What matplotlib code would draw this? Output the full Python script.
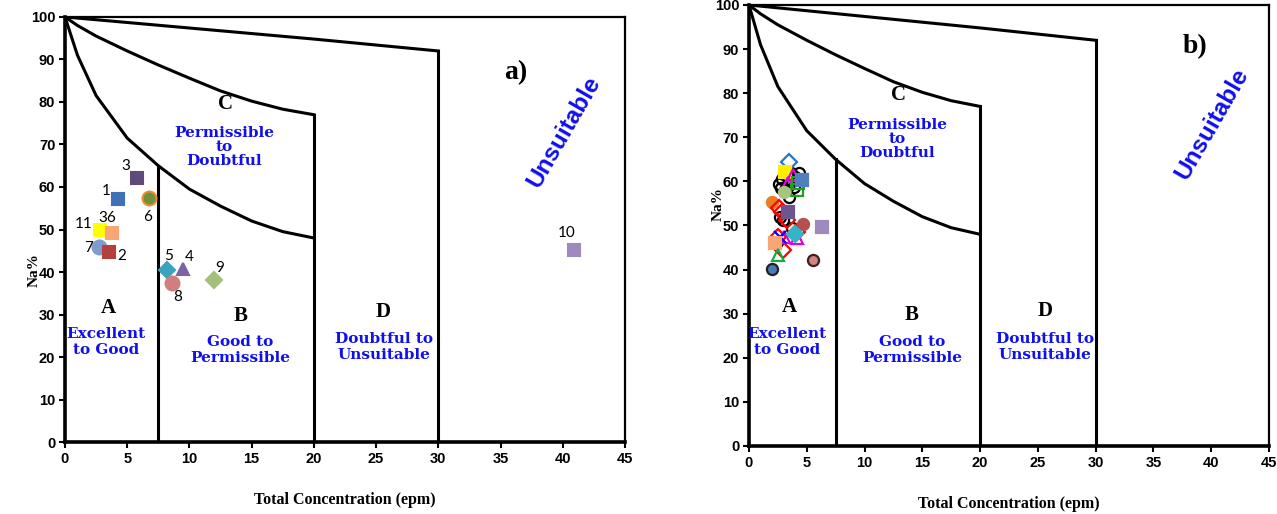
import matplotlib
matplotlib.use('Agg')
import matplotlib.pyplot as plt

# Wilcox diagram boundary curves (Total Concentration epm vs Na%)
curve_low_x = [0, 1, 2.5, 5, 7.5, 10, 12.5, 15, 17.5, 20]
curve_low_y = [100, 91, 81.5, 71.5, 65, 59.5, 55.5, 52, 49.5, 48]
curve_mid_x = [0, 1, 2.5, 5, 7.5, 10, 12.5, 15, 17.5, 20]
curve_mid_y = [100, 98, 95.5, 92, 88.7, 85.6, 82.6, 80.2, 78.3, 77]
curve_top_x = [0, 5, 10, 15, 20, 25, 30]
curve_top_y = [100, 98.7, 97.4, 96.1, 94.8, 93.4, 92]
vlines_x = [7.5, 20, 30]
vlines_top = [65, 77, 92]

# panel a: labelled samples
a_labels = ['1', '3', '6', '11', '36', '7', '2', '5', '4', '8', '9', '10']
a_x = [4.28, 5.76, 6.75, 2.84, 3.75, 2.76, 3.54, 8.22, 9.51, 8.57, 12.0, 40.9]
a_y = [57.2, 62.1, 57.3, 49.9, 49.1, 46.0, 44.8, 40.5, 40.7, 37.5, 38.1, 45.2]
a_marker = ['s', 's', 'o', 's', 's', 'o', 's', 'D', '^', 'o', 'D', 's']
a_color = ['#3F72B5', '#5F4A7C', '#6E9236', '#FFFF00', '#F9A677', '#7F9CCB',
           '#B3403E', '#3AA4BD', '#7D63A3', '#CF7F7D', '#A2C07A', '#9E8ABF']
a_edge = ['none', 'none', '#F08A3A', 'none', 'none', 'none',
          'none', 'none', 'none', 'none', 'none', 'none']
a_txt_off = [(-9, 6), (-8, 9), (-1, -13), (-12, 4), (-3, 11), (-8, -1),
             (9, -3), (1, 10), (4, 9), (4, -10), (4, 9), (-5, 12)]

# panel b: samples (marker, face, edge)
b_x = [2.9, 3.2, 3.6, 4.0, 3.4, 2.8, 3.1, 3.9, 3.5, 2.6, 4.3, 3.7,
       2.68, 2.97, 3.69, 2.39,
       3.49, 3.11, 3.83, 3.4, 4.27, 4.12, 4.56, 3.03, 1.96,
       2.62, 2.83, 3.26, 4.12, 2.54, 2.97,
       3.4, 4.64, 6.29, 4.12, 3.0, 2.68, 2.25, 2.48, 1.96, 5.51, 4.0]
b_y = [60.5, 61.5, 62.0, 61.0, 59.0, 58.5, 58.0, 58.8, 56.5, 59.5, 61.8, 60.0,
       52.0, 51.2, 49.4, 46.3,
       64.5, 62.2, 61.4, 59.6, 59.6, 58.0, 60.3, 57.7, 55.4,
       53.9, 53.1, 51.2, 48.6, 47.5, 44.4,
       53.1, 50.3, 49.6, 47.1, 47.5, 47.5, 46.0, 43.3, 40.1, 42.2, 48.0]
b_marker = ['o'] * 16 + ['D', 's', '^', '^', 's', 's', 's', 'o', 'o',
                         'D', 'D', 'D', 'D', 'D', 'D',
                         's', 'o', 's', '^', '^', 'x', 's', '^', 'o', 'o', 'D']
b_face = ['none'] * 16 + ['none', '#FFEE00', 'none', 'none', 'none', 'none', '#4F7FBF', '#A9C47F', '#EE7D22',
                          'none', 'none', 'none', 'none', 'none', 'none',
                          '#6E5590', '#B5504E', '#9E8ABF', 'none', 'none', 'blue', '#F9A677', 'none', '#4A78B8', '#D48380', '#33B5C8']
b_edge = ['black'] * 16 + ['#1F77D0', '#FFEE00', '#E000E0', '#E000E0', '#1FA01F', '#1FA01F', '#4F7FBF', '#A9C47F', '#EE7D22',
                           'red', 'red', 'red', 'red', 'red', 'red',
                           '#6E5590', '#B5504E', '#9E8ABF', '#E000E0', '#E000E0', 'blue', '#F9A677', '#10B040', '#222222', '#3A2222', '#33B5C8']

plt.rcParams['font.family'] = ['Liberation Sans', 'DejaVu Sans']

fig = plt.figure(figsize=(12.77, 5.14), dpi=100)
ax_a = fig.add_axes([0.0509, 0.140, 0.4385, 0.827])
ax_b = fig.add_axes([0.5865, 0.1323, 0.4072, 0.858])

serif = ['Liberation Serif', 'DejaVu Serif']
zone_font = ['DejaVu Serif']
blue = '#1010EE'


def draw_frame(ax, tag, ylab_pos):
    lw = 2.2
    ax.plot(curve_low_x, curve_low_y, color='black', lw=lw, zorder=2)
    ax.plot(curve_mid_x, curve_mid_y, color='black', lw=lw, zorder=2)
    ax.plot(curve_top_x, curve_top_y, color='black', lw=lw, zorder=2)
    for vx, vt in zip(vlines_x, vlines_top):
        ax.plot([vx, vx], [0, vt], color='black', lw=lw, zorder=2)
    ax.set_xlim(0, 45)
    ax.set_ylim(0, 100)
    ax.set_xticks(range(0, 46, 5))
    ax.set_yticks(range(0, 101, 10))
    for s in ['left', 'bottom']:
        ax.spines[s].set_linewidth(2.6)
    for s in ['top', 'right']:
        ax.spines[s].set_linewidth(1.6)
    ax.tick_params(direction='out', length=4, width=1.5, labelsize=10.5, pad=3)
    for t in ax.get_xticklabels() + ax.get_yticklabels():
        t.set_fontweight('bold')
    ax.set_xlabel('Total Concentration (epm)', family=serif, fontweight='bold', fontsize=11.5, labelpad=19)
    ax.set_ylabel('Na%', family=serif, fontweight='bold', fontsize=11)
    ax.yaxis.set_label_coords(*ylab_pos)

    # zone texts
    ax.text(12.9, 79.5, 'C', family=serif, fontweight='bold', fontsize=15, ha='center', va='center')
    ax.text(12.8, 69.5, 'Permissible\nto\nDoubtful', family=zone_font, fontweight='bold', fontsize=11,
            color=blue, ha='center', va='center', linespacing=1.0)
    ax.text(3.5, 31.5, 'A', family=serif, fontweight='bold', fontsize=15, ha='center', va='center')
    ax.text(3.3, 23.5, 'Excellent\nto Good', family=zone_font, fontweight='bold', fontsize=11,
            color=blue, ha='center', va='center', linespacing=1.2)
    ax.text(14.1, 29.7, 'B', family=serif, fontweight='bold', fontsize=15, ha='center', va='center')
    ax.text(14.1, 21.7, 'Good to\nPermissible', family=zone_font, fontweight='bold', fontsize=11,
            color=blue, ha='center', va='center', linespacing=1.2)
    ax.text(25.6, 30.6, 'D', family=serif, fontweight='bold', fontsize=15, ha='center', va='center')
    ax.text(25.6, 22.4, 'Doubtful to\nUnsuitable', family=zone_font, fontweight='bold', fontsize=11,
            color=blue, ha='center', va='center', linespacing=1.2)
    ax.text(40.1, 73.0, 'Unsuitable', fontweight='bold', fontsize=17.5, color=blue,
            rotation=60, ha='center', va='center')
    ax.text(tag[1], tag[2], tag[0], family=serif, fontweight='bold', fontsize=20,
            ha='center', va='center')


draw_frame(ax_a, ('a)', 36.2, 86.8), (-0.043, 0.405))
draw_frame(ax_b, ('b)', 38.6, 90.5), (-0.047, 0.549))

for lab, x, y, m, c, e, off in zip(a_labels, a_x, a_y, a_marker, a_color, a_edge, a_txt_off):
    ms = 9 if m == 's' else (10 if m == 'o' else 8)
    ax_a.plot(x, y, marker=m, ms=ms, color=c, mec=(c if e == 'none' else e), mew=1.5, ls='none', zorder=3)
    ax_a.annotate(lab, (x, y), xytext=off, textcoords='offset points', fontsize=11,
                  family=['Lato', 'DejaVu Sans'], ha='center', va='center')

for x, y, m, f, e in zip(b_x, b_y, b_marker, b_face, b_edge):
    ax_b.plot(x, y, marker=m, ms=8, mfc=f, mec=e, mew=1.6, ls='none', zorder=3)

fig.savefig('out.png', dpi=100)
